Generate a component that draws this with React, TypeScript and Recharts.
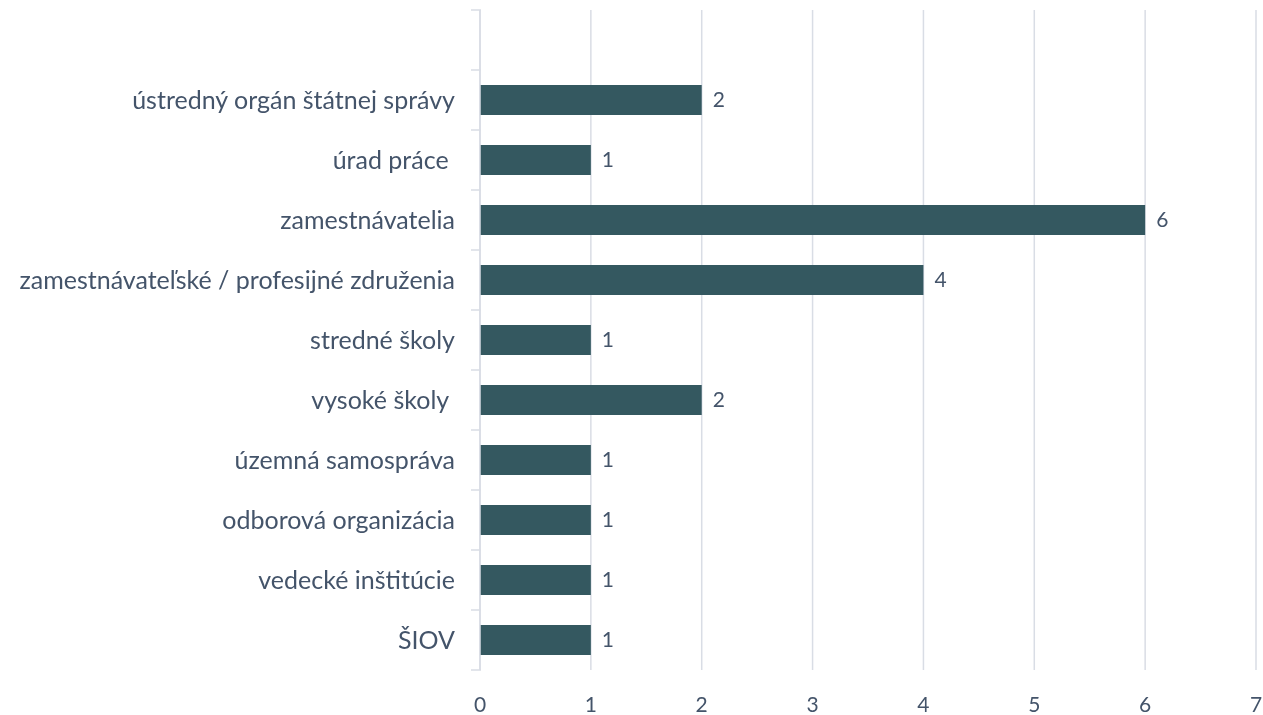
import { BarChart, Bar, XAxis, YAxis, CartesianGrid, LabelList } from "recharts";

const categories = [
  "",
  "ústredný orgán štátnej správy",
  "úrad práce ",
  "zamestnávatelia",
  "zamestnávateľské / profesijné združenia",
  "stredné školy",
  "vysoké školy ",
  "územná samospráva",
  "odborová organizácia",
  "vedecké inštitúcie",
  "ŠIOV",
];
const counts: (number | null)[] = [null, 2, 1, 6, 4, 1, 2, 1, 1, 1, 1];
const xTicks = [0, 1, 2, 3, 4, 5, 6, 7];

const data = categories.map((name, i) => ({ name, value: counts[i] }));

const W = 1263;
const H = 715;
const TOP = 10;
const BOTTOM = 45;
const TEXT = "#44546a";
const GRID = "#d9dde5";
const FONT = "Lato, 'Noto Sans', sans-serif";
const band = (H - TOP - BOTTOM) / categories.length;

// category labels sit at band centres, tick marks at band boundaries (Excel style)
function CatTick(props: any) {
  const { x, y, payload, index } = props;
  const last = index === categories.length - 1;
  return (
    <g>
      <line x1={x - 1} x2={x + 9} y1={y - band / 2} y2={y - band / 2} stroke={GRID} strokeWidth={1.5} />
      {last && <line x1={x - 1} x2={x + 9} y1={y + band / 2} y2={y + band / 2} stroke={GRID} strokeWidth={1.5} />}
      <text
        x={x - 17}
        y={y}
        dy="0.35em"
        textAnchor="end"
        fill={TEXT}
        fontSize={25}
        fontFamily={FONT}
        style={{ whiteSpace: "pre" }}
      >
        {payload.value}
      </text>
    </g>
  );
}

export default function App() {
  return (
    <div style={{ position: "fixed", left: 0, top: 0 }}>
      <BarChart
        width={W}
        height={H}
        data={data}
        layout="vertical"
        margin={{ top: TOP, right: 7, bottom: 0, left: 0 }}
      >
        <CartesianGrid horizontal={false} stroke={GRID} strokeWidth={1.5} />
        <XAxis
          type="number"
          domain={[0, 7]}
          ticks={xTicks}
          axisLine={false}
          tickLine={false}
          tickMargin={21}
          height={BOTTOM}
          tick={{ fill: TEXT, fontSize: 21, fontFamily: FONT }}
          interval={0}
        />
        <YAxis
          type="category"
          dataKey="name"
          width={480}
          axisLine={{ stroke: GRID, strokeWidth: 1.5 }}
          tickLine={false}
          tick={<CatTick />}
          interval={0}
        />
        <Bar dataKey="value" fill="#345860" barSize={30} isAnimationActive={false}>
          <LabelList dataKey="value" position="right" offset={11} fill={TEXT} fontSize={21} fontFamily={FONT} />
        </Bar>
      </BarChart>
    </div>
  );
}
